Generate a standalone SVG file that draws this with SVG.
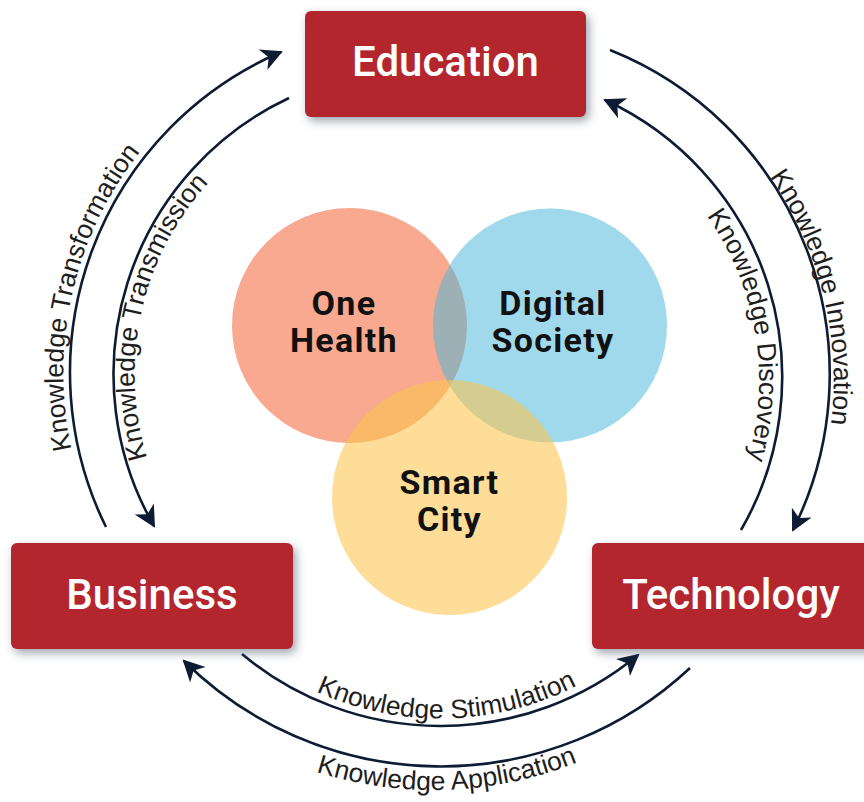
<svg xmlns="http://www.w3.org/2000/svg" xmlns:xlink="http://www.w3.org/1999/xlink" width="864" height="802" viewBox="0 0 864 802">
<defs>
<style>
.box{fill:#B4262F;filter:url(#sh);}
.btxt{font-family:Roboto,"Liberation Sans",sans-serif;font-weight:500;font-size:42px;fill:#ffffff;text-anchor:middle;}
.ctxt{font-family:Roboto,"Liberation Sans",sans-serif;font-weight:700;font-size:34px;letter-spacing:1.3px;fill:#111111;text-anchor:middle;}
.arc{fill:none;stroke:#0d1b33;stroke-width:2.6;marker-end:url(#ah);}
.lbl{font-family:"Liberation Sans",Arial,sans-serif;font-size:26.5px;fill:#1e1e1e;}
</style>
<filter id="sh" x="-20%" y="-30%" width="140%" height="170%">
<feDropShadow dx="3" dy="4" stdDeviation="5" flood-color="#4a5a6a" flood-opacity="0.55"/>
</filter>
<marker id="ah" viewBox="-21 -12 25 24" refX="0" refY="0" markerWidth="25" markerHeight="24" markerUnits="userSpaceOnUse" orient="auto">
<path d="M2,0 L-19.5,-11 L-13.5,0 L-19.5,11 Z" fill="#0d1b33"/>
</marker>
<path id="tpLO" d="M114.3,557 A357,357 0 0 1 225.9,73.7"/>
<path id="tpLI" d="M192.9,546.5 A284,284 0 0 1 287.8,121.9"/>
<path id="tpRO" d="M665.5,77.8 A357,357 0 0 1 785.2,560.5"/>
<path id="tpRI" d="M618,134.9 A284,284 0 0 1 691.2,564.6"/>
<path id="tpBI" d="M231.5,634.5 A301,301 0 0 0 658.7,624.3"/>
<path id="tpBO" d="M194.7,708 A388.5,388.5 0 0 0 693.9,689.7"/>
</defs>
<rect width="864" height="802" fill="#ffffff"/>

<g id="venn">
<g id="one-health">
<circle cx="349.5" cy="325.5" r="117.5" fill="#F8A98F"/>
</g>
<g id="digital-society">
<circle cx="550" cy="325.5" r="117" fill="#48B6D9" fill-opacity="0.52"/>
</g>
<g id="smart-city">
<circle cx="449.5" cy="497.5" r="117.5" fill="#FCC44D" fill-opacity="0.58"/>
</g>
<text class="ctxt" x="344" y="315">One</text>
<text class="ctxt" x="344" y="352">Health</text>
<text class="ctxt" x="553" y="315">Digital</text>
<text class="ctxt" x="553" y="352">Society</text>
<text class="ctxt" x="449.5" y="494">Smart</text>
<text class="ctxt" x="449.5" y="531">City</text>
</g>

<g id="connectors">
<path class="arc" d="M106,527 A349,349 0 0 1 281,52"/>
<path class="arc" d="M289,98 A305,305 0 0 0 154,526"/>
<path class="arc" d="M610,50 A349,349 0 0 1 793,530"/>
<path class="arc" d="M741,530 A305,305 0 0 0 605,100"/>
<path class="arc" d="M242,654 A310,310 0 0 0 638,655"/>
<path class="arc" d="M690,668 A365,365 0 0 1 184,661"/>
</g>

<g id="labels">
<text class="lbl"><textPath xlink:href="#tpLO" href="#tpLO" startOffset="50%" text-anchor="middle">Knowledge Transformation</textPath></text>
<text class="lbl"><textPath xlink:href="#tpLI" href="#tpLI" startOffset="50%" text-anchor="middle">Knowledge Transmission</textPath></text>
<text class="lbl"><textPath xlink:href="#tpRO" href="#tpRO" startOffset="50%" text-anchor="middle">Knowledge Innovation</textPath></text>
<text class="lbl"><textPath xlink:href="#tpRI" href="#tpRI" startOffset="50%" text-anchor="middle">Knowledge Discovery</textPath></text>
<text class="lbl"><textPath xlink:href="#tpBI" href="#tpBI" startOffset="50%" text-anchor="middle">Knowledge Stimulation</textPath></text>
<text class="lbl"><textPath xlink:href="#tpBO" href="#tpBO" startOffset="50%" text-anchor="middle">Knowledge Application</textPath></text>
</g>

<g id="education">
<rect class="box" x="305" y="11" width="281" height="106" rx="6"/>
<text class="btxt" x="445.5" y="76">Education</text>
</g>
<g id="business">
<rect class="box" x="11" y="543" width="282" height="106" rx="6"/>
<text class="btxt" x="152" y="609">Business</text>
</g>
<g id="technology">
<rect class="box" x="592" y="543" width="282" height="106" rx="6"/>
<text class="btxt" x="731" y="609">Technology</text>
</g>
</svg>
